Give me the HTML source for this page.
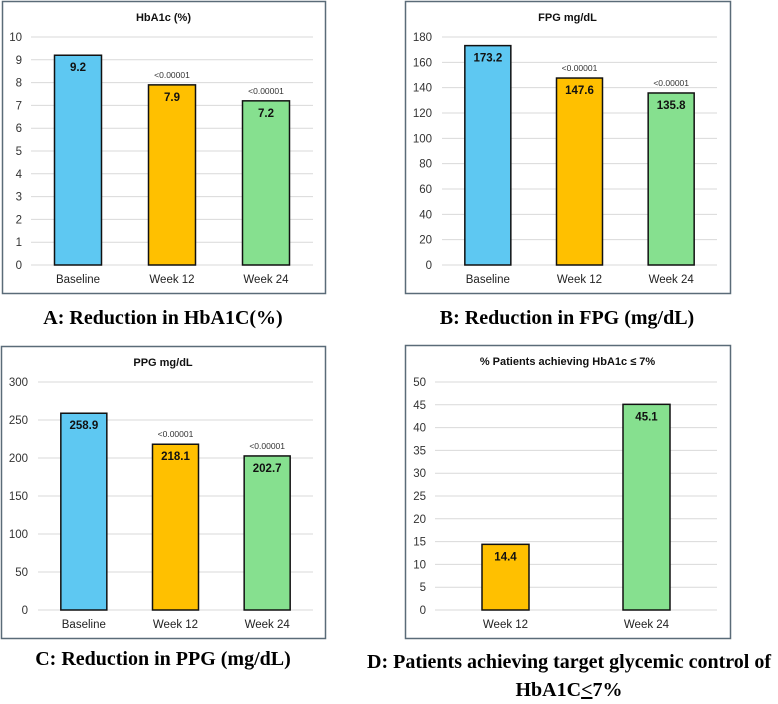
<!DOCTYPE html>
<html><head><meta charset="utf-8"><style>
body{margin:0;background:#fff;width:778px;height:699px;overflow:hidden;font-family:"Liberation Sans",sans-serif}
.cap{position:absolute;font-family:"Liberation Serif",serif;font-weight:bold;font-size:20px;color:#000;white-space:nowrap;text-align:center}
</style></head><body>
<svg id="svg" width="778" height="699" style="position:absolute;left:0;top:0"></svg>
<div class="cap" style="left:0;width:326px;top:307px">A: Reduction in HbA1C(%)</div>
<div class="cap" style="left:404px;width:326px;top:307px">B: Reduction in FPG (mg/dL)</div>
<div class="cap" style="left:0;width:326px;top:648px">C: Reduction in PPG (mg/dL)</div>
<div class="cap" style="left:360px;width:418px;top:648px;line-height:28px">D: Patients achieving target glycemic control of<br>HbA1C<u>&lt;</u>7%</div>
<script>
const catsA=["Baseline","Week 12","Week 24"];
const valsA=[9.2,7.9,7.2];
const pA=["","<0.00001","<0.00001"];
const ticksA=[0,1,2,3,4,5,6,7,8,9,10];
const valsB=[173.2,147.6,135.8];
const ticksB=[0,20,40,60,80,100,120,140,160,180];
const valsC=[258.9,218.1,202.7];
const ticksC=[0,50,100,150,200,250,300];
const catsD=["Week 12","Week 24"];
const valsD=[14.4,45.1];
const ticksD=[0,5,10,15,20,25,30,35,40,45,50];
const colors3=["#5ec8f2","#ffc000","#86e08f"];
const colors2=["#ffc000","#86e08f"];
const NS="http://www.w3.org/2000/svg";
const svg=document.getElementById('svg');
function el(tag,attrs,parent,text){const e=document.createElementNS(NS,tag);for(const k in attrs)e.setAttribute(k,attrs[k]);if(text!==undefined)e.textContent=text;parent.appendChild(e);return e;}
function chart(o){
 const g=el('g',{},svg);
 
 
 const fr=el('rect',{x:o.fx+0.5,y:o.fy+0.5,width:o.fw,height:o.fh,fill:'#fff',stroke:'#5a6b78','stroke-width':1.5},g);
 
 
 const t=el('text',{x:o.fx+o.fw/2,y:o.fy+20,'text-anchor':'middle','font-size':11,'font-weight':'bold',fill:'#111'},g,o.title);
 
 
 const max=o.ticks[o.ticks.length-1];
 const y=v=>o.y0-(v/max)*(o.y0-o.y1);
 o.ticks.forEach(tk=>{
  const l=el('line',{x1:o.gx0,x2:o.gx1,y1:y(tk),y2:y(tk),stroke:'#d9d9d9','stroke-width':1},g);
  
  
  const tl=el('text',{x:o.tx,y:y(tk)+4,'text-anchor':'end','font-size':11.5,fill:'#333'},g,tk);
  
  
 });
 const n=o.cats.length, step=(o.gx1-o.gx0)/n, bw=o.bw;
 o.cats.forEach((c,i)=>{
  const cx=o.gx0+step*(i+0.5);
  const b=el('rect',{x:cx-bw/2,y:y(o.vals[i]),width:bw,height:o.y0-y(o.vals[i]),fill:o.colors[i],stroke:'#111','stroke-width':1.5},g);
  
  
  const v=el('text',{x:cx,y:y(o.vals[i])+16,'text-anchor':'middle','font-size':11.5,'font-weight':'bold',fill:'#111'},g,o.vals[i]);
  
  
  if(o.p&&o.p[i]){const p=el('text',{x:cx,y:y(o.vals[i])-7,'text-anchor':'middle','font-size':8.5,fill:'#333'},g,o.p[i]);
   
   }
  const cl=el('text',{x:cx,y:o.y0+18,'text-anchor':'middle','font-size':11.5,fill:'#222'},g,c);
  
  
 });
}
chart({name:'chart-hba1c',fx:2,fy:1,fw:323,fh:292,title:'HbA1c (%)',gx0:31,gx1:313,y0:265,y1:37,tx:22,ticks:ticksA,cats:catsA,vals:valsA,p:pA,colors:colors3,bw:47});
chart({name:'chart-fpg',fx:405,fy:1,fw:325,fh:292,title:'FPG mg/dL',gx0:442,gx1:717,y0:265,y1:37,tx:432,ticks:ticksB,cats:catsA,vals:valsB,p:pA,colors:colors3,bw:46});
chart({name:'chart-ppg',fx:1,fy:346,fw:324,fh:292,title:'PPG mg/dL',gx0:38,gx1:313,y0:610,y1:382,tx:28,ticks:ticksC,cats:catsA,vals:valsC,p:pA,colors:colors3,bw:46});
chart({name:'chart-target',fx:405,fy:345,fw:325,fh:293,title:'% Patients achieving HbA1c \u2264 7%',gx0:435,gx1:717,y0:610,y1:382,tx:426,ticks:ticksD,cats:catsD,vals:valsD,p:null,colors:colors2,bw:47});
</script>
</body></html>
